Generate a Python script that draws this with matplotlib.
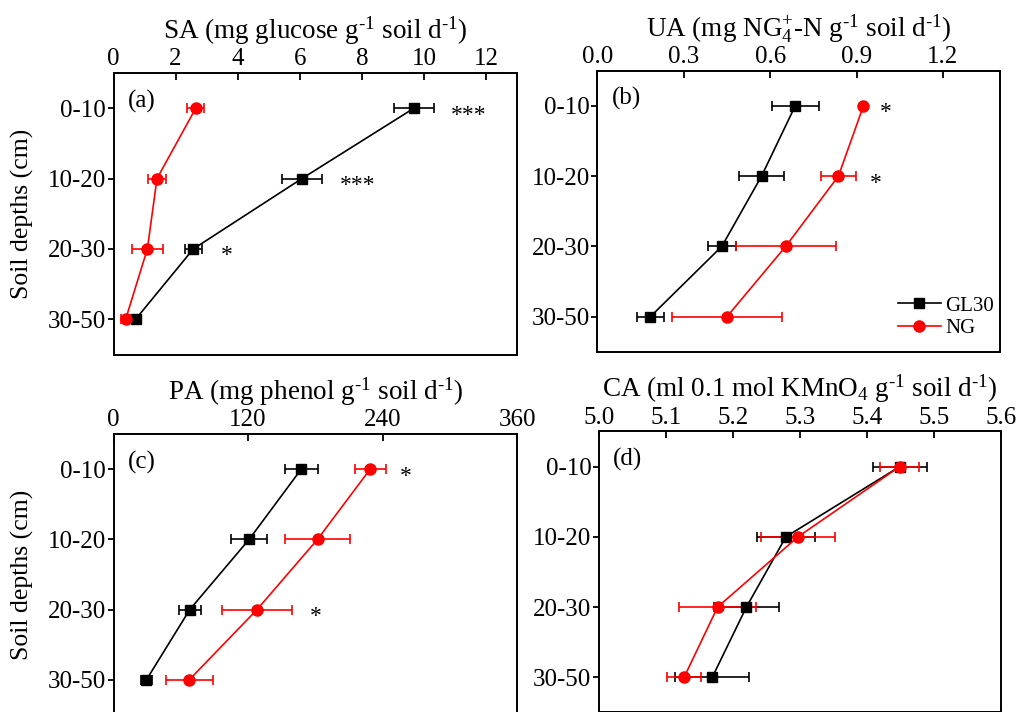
import numpy as np
import matplotlib
matplotlib.use("Agg")
import matplotlib.pyplot as plt

plt.rcParams["font.family"] = ["Liberation Serif", "DejaVu Serif"]
plt.rcParams["mathtext.fontset"] = "custom"
plt.rcParams["mathtext.rm"] = "Liberation Serif"
plt.rcParams["mathtext.it"] = "Liberation Serif:italic"
plt.rcParams["mathtext.bf"] = "Liberation Serif:bold"

depths = ["0-10", "10-20", "20-30", "30-50"]

# SA (a)
sa_gl30 = [9.68, 6.07, 2.57, 0.71]
sa_gl30_err = [0.65, 0.65, 0.27, 0.10]
sa_ng = [2.65, 1.40, 1.09, 0.39]
sa_ng_err = [0.27, 0.28, 0.50, 0.15]
sa_stars = ["***", "***", "*", ""]
sa_star_x = [11.43, 7.85, 3.66, 0]

# UA (b)
ua_gl30 = [0.687, 0.570, 0.432, 0.184]
ua_gl30_err = [0.082, 0.078, 0.048, 0.048]
ua_ng = [0.924, 0.837, 0.654, 0.450]
ua_ng_err = [0.0, 0.060, 0.174, 0.190]
ua_stars = ["*", "*", "", ""]
ua_star_x = [1.003, 0.968, 0, 0]

# PA (c)
pa_gl30 = [167.5, 121.0, 68.0, 29.3]
pa_gl30_err = [14.5, 16.0, 10.0, 5.0]
pa_ng = [229.0, 182.0, 128.0, 67.5]
pa_ng_err = [14.0, 29.0, 31.6, 21.0]
pa_stars = ["*", "", "*", ""]
pa_star_x = [261, 0, 180.6, 0]

# CA (d)
ca_gl30 = [5.449, 5.279, 5.220, 5.169]
ca_gl30_err = [0.040, 0.043, 0.048, 0.055]
ca_ng = [5.449, 5.297, 5.177, 5.127]
ca_ng_err = [0.029, 0.055, 0.058, 0.025]
ca_stars = ["", "", "", ""]
ca_star_x = [0, 0, 0, 0]

H = "\u2010"  # text hyphen for the superscripts
inv = r"$^{\mathrm{" + H + "1}}$"

fig = plt.figure(figsize=(10.21, 7.12), dpi=100)

panels = [
    dict(rect=[0.1112, 0.5021, 0.3952, 0.3954], gl=sa_gl30, gle=sa_gl30_err, ng=sa_ng, nge=sa_ng_err,
         stars=sa_stars, sx=sa_star_x, xlim=(0, 13), xticks=np.arange(0, 13, 2), fmt="{:.0f}",
         title="SA (mg glucose g" + inv + " soil d" + inv + ")", tag="(a)", ylab=True),
    dict(rect=[0.5852, 0.5060, 0.3947, 0.3947], gl=ua_gl30, gle=ua_gl30_err, ng=ua_ng, nge=ua_ng_err,
         stars=ua_stars, sx=ua_star_x, xlim=(0, 1.4), xticks=np.arange(0, 1.21, 0.3), fmt="{:.1f}",
         title=r"UA (mg NG$_{\mathrm{4}}^{\mathrm{+}}$-N g" + inv + " soil d" + inv + ")", tag="(b)", ylab=False),
    dict(rect=[0.1112, -0.0042, 0.3952, 0.3947], gl=pa_gl30, gle=pa_gl30_err, ng=pa_ng, nge=pa_ng_err,
         stars=pa_stars, sx=pa_star_x, xlim=(0, 360), xticks=np.arange(0, 361, 120), fmt="{:.0f}",
         title="PA (mg phenol g" + inv + " soil d" + inv + ")", tag="(c)", ylab=True),
    dict(rect=[0.5867, -0.0006, 0.3937, 0.3947], gl=ca_gl30, gle=ca_gl30_err, ng=ca_ng, nge=ca_ng_err,
         stars=ca_stars, sx=ca_star_x, xlim=(5.0, 5.6), xticks=np.arange(5.0, 5.61, 0.1), fmt="{:.1f}",
         title=r"CA (ml 0.1 mol KMnO$_{\mathrm{4}}$ g" + inv + " soil d" + inv + ")", tag="(d)", ylab=False),
]

y = np.arange(len(depths))

for i, p in enumerate(panels):
    ax = fig.add_axes(p["rect"])
    eb1 = ax.errorbar(p["gl"], y, xerr=p["gle"], color="black", marker="s", markersize=7,
                      linewidth=1.2, elinewidth=1.2, capsize=3.5, capthick=1.2)
    eb2 = ax.errorbar(p["ng"], y, xerr=p["nge"], color="red", marker="o", markersize=8,
                      linewidth=1.2, elinewidth=1.2, capsize=3.5, capthick=1.2)
    for s, sx, yy in zip(p["stars"], p["sx"], y):
        if s:
            ax.text(sx, yy + 0.1, s, ha="center", va="center", fontsize=17)
    ax.set_xlim(*p["xlim"])
    ax.set_ylim(3.5, -0.5)
    ax.set_yticks(y)
    ax.set_yticklabels(depths, fontsize=18)
    ax.set_xticks(p["xticks"])
    ax.set_xticklabels([p["fmt"].format(v) for v in p["xticks"]], fontsize=18)
    ax.xaxis.tick_top()
    ax.xaxis.set_label_position("top")
    ax.tick_params(axis="x", direction="in", length=5, width=1.3, pad=2)
    ax.tick_params(axis="y", direction="out", length=4, width=1.3, pad=1.5)
    ax.set_xlabel(p["title"], fontsize=19.5, labelpad=7)
    if p["ylab"]:
        ax.set_ylabel("Soil depths (cm)", fontsize=18.5, labelpad=10)
    for sp in ax.spines.values():
        sp.set_linewidth(1.4)
    ax.text(0.035, 0.9, p["tag"], transform=ax.transAxes, fontsize=18, ha="left", va="center")
    if i == 1:
        # legend shows only line + marker, no error bars
        ax.legend([eb1.lines[0], eb2.lines[0]], ["GL30", "NG"], loc="lower right",
                  bbox_to_anchor=(1.0, 0.025), frameon=False, fontsize=15,
                  handlelength=2.1, handletextpad=0.2, borderaxespad=0.1,
                  borderpad=0.2, labelspacing=0.15)

fig.savefig("out.png", dpi=100)
